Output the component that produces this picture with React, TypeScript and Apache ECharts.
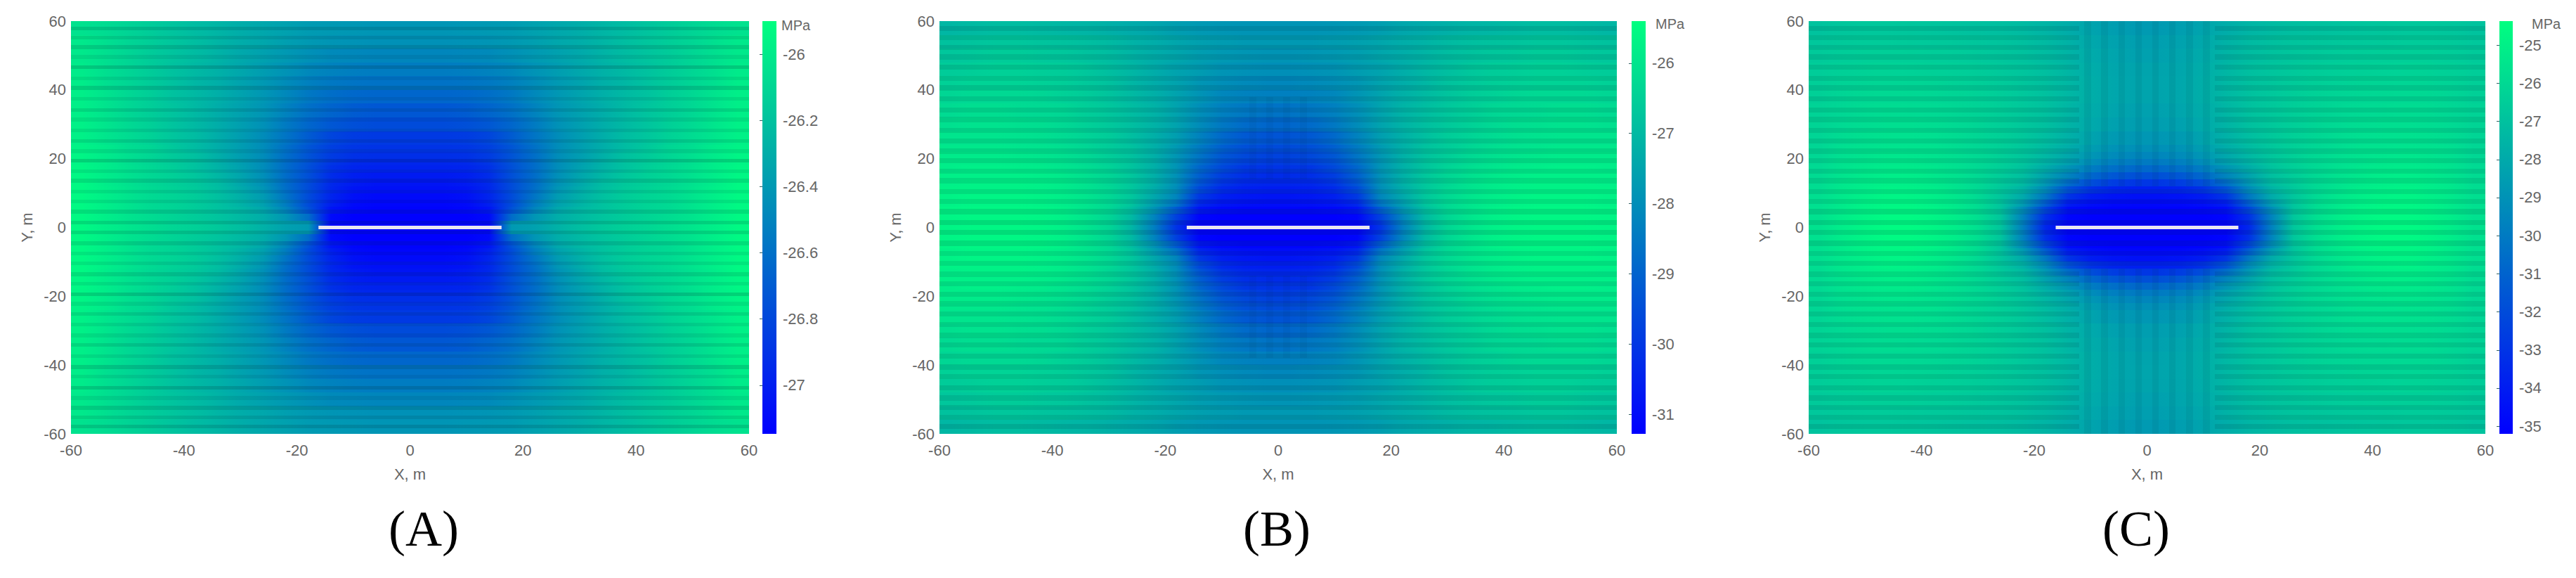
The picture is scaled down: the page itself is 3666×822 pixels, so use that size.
import React, { useEffect, useRef } from "react";
import * as echarts from "echarts";

// Band edges (m) of the tables below: they describe the quadrant x>=0, y>=0.
const xEdges = [0, 4, 8, 12, 16, 20, 24, 28, 32, 36, 40, 44, 48, 52, 56, 60];
const yEdges = [0, 2, 4, 6, 8, 10, 12, 14, 16, 18, 20, 22, 24, 28, 32, 36, 40, 44, 48, 52, 56, 60];

// Stress (MPa), rows from y=0 upward, columns from x=0 outward.
const stressA = [
  [-27.14,-27.14,-27.14,-27.12,-26.40,-26.36,-26.28,-26.22,-26.17,-26.13,-26.1,-26.06,-26.02,-25.98,-25.93],
  [-27.14,-27.14,-27.14,-27.10,-26.62,-26.42,-26.30,-26.24,-26.19,-26.15,-26.11,-26.07,-26.03,-25.98,-25.93],
  [-27.13,-27.13,-27.12,-27.05,-26.75,-26.5,-26.33,-26.25,-26.2,-26.15,-26.11,-26.08,-26.03,-25.98,-25.93],
  [-27.12,-27.12,-27.10,-27.00,-26.78,-26.54,-26.36,-26.27,-26.2,-26.15,-26.11,-26.08,-26.03,-25.98,-25.93],
  [-27.10,-27.10,-27.07,-26.97,-26.78,-26.58,-26.39,-26.29,-26.21,-26.15,-26.11,-26.08,-26.03,-25.98,-25.93],
  [-27.07,-27.07,-27.05,-26.96,-26.78,-26.61,-26.42,-26.31,-26.22,-26.16,-26.12,-26.08,-26.03,-25.98,-25.93],
  [-27.05,-27.05,-27.02,-26.95,-26.78,-26.62,-26.44,-26.33,-26.23,-26.17,-26.13,-26.09,-26.04,-25.99,-25.93],
  [-27.02,-27.02,-27.00,-26.93,-26.76,-26.62,-26.45,-26.34,-26.25,-26.18,-26.13,-26.09,-26.04,-25.99,-25.94],
  [-26.98,-26.98,-26.97,-26.91,-26.76,-26.62,-26.46,-26.36,-26.27,-26.2,-26.14,-26.09,-26.04,-25.99,-25.94],
  [-26.96,-26.96,-26.95,-26.89,-26.75,-26.62,-26.46,-26.37,-26.28,-26.2,-26.15,-26.1,-26.05,-25.99,-25.95],
  [-26.92,-26.92,-26.91,-26.86,-26.74,-26.61,-26.46,-26.38,-26.29,-26.21,-26.16,-26.1,-26.05,-26.0,-25.95],
  [-26.90,-26.90,-26.89,-26.84,-26.73,-26.6,-26.46,-26.38,-26.3,-26.23,-26.17,-26.1,-26.06,-26.0,-25.96],
  [-26.87,-26.87,-26.86,-26.81,-26.7,-26.58,-26.46,-26.38,-26.3,-26.23,-26.18,-26.12,-26.07,-26.02,-25.97],
  [-26.78,-26.78,-26.76,-26.72,-26.65,-26.55,-26.44,-26.37,-26.3,-26.24,-26.19,-26.13,-26.08,-26.02,-25.97],
  [-26.72,-26.72,-26.7,-26.66,-26.6,-26.51,-26.42,-26.36,-26.3,-26.24,-26.19,-26.14,-26.09,-26.03,-25.98],
  [-26.65,-26.65,-26.64,-26.61,-26.56,-26.48,-26.41,-26.35,-26.29,-26.24,-26.2,-26.14,-26.09,-26.03,-25.98],
  [-26.59,-26.59,-26.58,-26.56,-26.52,-26.46,-26.4,-26.35,-26.29,-26.25,-26.2,-26.15,-26.1,-26.05,-25.99],
  [-26.54,-26.54,-26.53,-26.51,-26.48,-26.43,-26.38,-26.33,-26.28,-26.24,-26.2,-26.15,-26.1,-26.05,-26.0],
  [-26.49,-26.49,-26.48,-26.47,-26.44,-26.4,-26.36,-26.32,-26.27,-26.23,-26.19,-26.15,-26.1,-26.05,-26.01],
  [-26.44,-26.44,-26.43,-26.42,-26.4,-26.37,-26.33,-26.3,-26.26,-26.22,-26.18,-26.14,-26.1,-26.05,-26.01],
  [-26.42,-26.42,-26.41,-26.4,-26.39,-26.36,-26.33,-26.3,-26.26,-26.23,-26.19,-26.15,-26.11,-26.07,-26.04],
];
const stressB = [
  [-31.28,-31.28,-31.28,-31.28,-30.1,-28.34,-27.05,-26.34,-25.99,-25.75,-25.64,-25.58,-25.58,-25.58,-25.64],
  [-31.28,-31.28,-31.28,-31.16,-29.81,-28.22,-26.99,-26.34,-25.99,-25.75,-25.64,-25.58,-25.58,-25.58,-25.64],
  [-31.16,-31.16,-31.1,-30.81,-29.22,-27.87,-26.87,-26.28,-25.99,-25.75,-25.64,-25.58,-25.58,-25.58,-25.64],
  [-30.99,-30.93,-30.81,-30.4,-28.63,-27.63,-26.75,-26.28,-25.99,-25.81,-25.7,-25.64,-25.64,-25.64,-25.7],
  [-30.81,-30.75,-30.57,-29.99,-28.22,-27.4,-26.69,-26.28,-25.99,-25.81,-25.7,-25.64,-25.64,-25.64,-25.7],
  [-30.63,-30.57,-30.34,-29.63,-28.05,-27.28,-26.69,-26.28,-26.05,-25.87,-25.75,-25.7,-25.7,-25.7,-25.7],
  [-30.46,-30.4,-30.1,-29.34,-27.99,-27.22,-26.69,-26.34,-26.05,-25.87,-25.75,-25.7,-25.7,-25.7,-25.75],
  [-30.28,-30.22,-29.87,-29.1,-27.93,-27.22,-26.69,-26.34,-26.11,-25.93,-25.81,-25.75,-25.75,-25.75,-25.75],
  [-30.1,-30.05,-29.63,-28.93,-27.87,-27.22,-26.75,-26.4,-26.16,-25.99,-25.87,-25.81,-25.75,-25.75,-25.81],
  [-29.93,-29.81,-29.46,-28.75,-27.87,-27.22,-26.75,-26.46,-26.22,-26.05,-25.93,-25.87,-25.81,-25.81,-25.81],
  [-29.75,-29.63,-29.28,-28.58,-27.81,-27.22,-26.81,-26.52,-26.28,-26.11,-25.99,-25.93,-25.87,-25.87,-25.87],
  [-29.57,-29.46,-29.1,-28.46,-27.75,-27.22,-26.81,-26.58,-26.34,-26.16,-26.05,-25.99,-25.93,-25.93,-25.93],
  [-29.34,-29.22,-28.87,-28.28,-27.63,-27.22,-26.87,-26.58,-26.4,-26.22,-26.11,-26.05,-25.99,-25.99,-25.99],
  [-28.93,-28.81,-28.52,-28.05,-27.52,-27.16,-26.87,-26.64,-26.46,-26.28,-26.16,-26.11,-26.05,-26.05,-26.11],
  [-28.63,-28.52,-28.34,-27.99,-27.52,-27.16,-26.93,-26.7,-26.52,-26.34,-26.28,-26.22,-26.16,-26.16,-26.22],
  [-28.34,-28.28,-28.16,-27.87,-27.52,-27.22,-26.99,-26.75,-26.58,-26.46,-26.34,-26.28,-26.28,-26.28,-26.34],
  [-28.16,-28.1,-27.99,-27.81,-27.52,-27.28,-27.05,-26.81,-26.64,-26.52,-26.46,-26.4,-26.4,-26.4,-26.46],
  [-27.99,-27.93,-27.87,-27.69,-27.52,-27.28,-27.05,-26.87,-26.7,-26.58,-26.52,-26.46,-26.46,-26.52,-26.58],
  [-27.87,-27.81,-27.75,-27.63,-27.46,-27.28,-27.1,-26.93,-26.81,-26.7,-26.64,-26.58,-26.58,-26.64,-26.7],
  [-27.75,-27.75,-27.69,-27.58,-27.46,-27.28,-27.16,-26.99,-26.87,-26.81,-26.75,-26.7,-26.7,-26.75,-26.81],
  [-27.87,-27.87,-27.81,-27.75,-27.63,-27.46,-27.34,-27.22,-27.1,-27.05,-26.99,-26.93,-26.93,-26.99,-27.05],
];
const stressC = [
  [-35.2,-35.2,-35.2,-35.15,-33.6,-29.79,-26.8,-25.7,-25.1,-24.75,-24.55,-24.55,-24.75,-25.1,-25.6],
  [-35.15,-35.15,-35.15,-35.0,-33.2,-29.7,-26.8,-25.75,-25.15,-24.8,-24.6,-24.6,-24.8,-25.15,-25.65],
  [-35.1,-35.1,-35.05,-34.7,-32.4,-29.3,-26.85,-25.8,-25.2,-24.85,-24.65,-24.65,-24.85,-25.2,-25.65],
  [-34.9,-34.85,-34.6,-34.0,-31.3,-28.6,-26.85,-25.85,-25.3,-24.95,-24.75,-24.7,-24.9,-25.25,-25.7],
  [-34.5,-34.4,-34.0,-33.0,-30.2,-28.0,-26.8,-25.95,-25.4,-25.05,-24.85,-24.8,-25.0,-25.3,-25.75],
  [-33.9,-33.7,-33.1,-31.8,-29.4,-27.6,-26.7,-26.0,-25.5,-25.15,-24.95,-24.9,-25.1,-25.35,-25.8],
  [-32.9,-32.6,-31.9,-30.6,-28.8,-27.3,-26.6,-26.0,-25.55,-25.25,-25.05,-25.0,-25.15,-25.4,-25.85],
  [-31.8,-31.5,-30.8,-29.6,-28.3,-27.1,-26.5,-26.0,-25.6,-25.35,-25.15,-25.1,-25.25,-25.5,-25.9],
  [-30.8,-30.5,-29.9,-28.9,-27.9,-26.95,-26.4,-26.0,-25.65,-25.4,-25.25,-25.2,-25.35,-25.55,-25.95],
  [-30.0,-29.8,-29.2,-28.4,-27.6,-26.85,-26.35,-26.0,-25.7,-25.5,-25.35,-25.3,-25.42,-25.6,-26.0],
  [-29.5,-29.3,-28.8,-28.1,-27.4,-26.8,-26.35,-26.0,-25.75,-25.55,-25.45,-25.4,-25.5,-25.7,-26.05],
  [-29.1,-28.95,-28.5,-27.85,-27.25,-26.75,-26.35,-26.05,-25.8,-25.6,-25.55,-25.5,-25.6,-25.75,-26.1],
  [-28.8,-28.65,-28.25,-27.7,-27.15,-26.7,-26.35,-26.1,-25.85,-25.7,-25.62,-25.6,-25.68,-25.85,-26.15],
  [-28.5,-28.35,-28.0,-27.55,-27.05,-26.7,-26.4,-26.15,-25.95,-25.82,-25.75,-25.72,-25.8,-25.95,-26.2],
  [-28.35,-28.2,-27.9,-27.45,-27.0,-26.7,-26.45,-26.22,-26.05,-25.95,-25.88,-25.85,-25.92,-26.05,-26.25],
  [-28.25,-28.1,-27.8,-27.4,-27.0,-26.72,-26.5,-26.3,-26.17,-26.07,-26.02,-26.0,-26.02,-26.15,-26.35],
  [-28.2,-28.1,-27.8,-27.4,-27.05,-26.78,-26.58,-26.42,-26.3,-26.2,-26.15,-26.12,-26.15,-26.25,-26.42],
  [-28.25,-28.15,-27.85,-27.45,-27.1,-26.85,-26.68,-26.53,-26.42,-26.35,-26.3,-26.25,-26.28,-26.37,-26.5],
  [-28.35,-28.2,-27.95,-27.55,-27.2,-26.95,-26.78,-26.65,-26.55,-26.5,-26.45,-26.4,-26.42,-26.5,-26.6],
  [-28.45,-28.3,-28.05,-27.65,-27.3,-27.05,-26.88,-26.78,-26.7,-26.65,-26.6,-26.55,-26.55,-26.62,-26.72],
  [-28.65,-28.5,-28.25,-27.85,-27.5,-27.25,-27.1,-27.0,-26.9,-26.85,-26.77,-26.72,-26.72,-26.8,-26.9],
];

// Mesh banding seen in the picture: |y| of the dark rows, their strengths per panel.
const bandY = [1.4, 4.6, 7.6, 10.4, 13.6, 16.4, 19.4, 22.2, 25.2, 28.2, 31.4, 34.2, 37.4, 40.6, 43.4, 46.6, 49.6, 52.4, 55.2, 57.8];
const bandA = [0.14, 0.12, 0.09, 0.09, 0.12, 0.09, 0.17, 0.09, 0.11, 0.09, 0.09, 0.12, 0.09, 0.15, 0.09, 0.17, 0.09, 0.14, 0.11, 0.15];
const bandB = [0.13, 0.12, 0.1, 0.1, 0.1, 0.1, 0.11, 0.1, 0.1, 0.1, 0.1, 0.1, 0.1, 0.11, 0.1, 0.11, 0.1, 0.11, 0.1, 0.12];
const bandC = [0.12, 0.12, 0.1, 0.1, 0.1, 0.1, 0.1, 0.1, 0.1, 0.1, 0.1, 0.1, 0.1, 0.1, 0.1, 0.1, 0.1, 0.1, 0.1, 0.11];
// |x| of the vertical bands above the crack in panels B and C.
const columnXB = [1.5, 4.5];
const columnXC = [1.5, 4.5, 7.5, 10.5];

const crackX = [-16.2, 16.2];
const ticksA = [-26, -26.2, -26.4, -26.6, -26.8, -27];
const ticksB = [-26, -27, -28, -29, -30, -31];
const ticksC = [-25, -26, -27, -28, -29, -30, -31, -32, -33, -34, -35];

const panels = [
  { table: stressA, band: bandA, columns: [] as number[], columnAlpha: 0, columnY: [0, 0], gap: 0, bandW: 0.55, min: -27.147, max: -25.9, ticks: ticksA, left: 101, right: 1066, barL: 1085, barR: 1105, unitX: 1112, unitY: 36, label: "(A)", labelX: 603 },
  { table: stressB, band: bandB, columns: columnXB, columnAlpha: 0.05, columnY: [14, 38], gap: 0, bandW: 0.75, min: -31.28, max: -25.4, ticks: ticksB, left: 1337, right: 2301, barL: 2322, barR: 2342, unitX: 2356, unitY: 34, label: "(B)", labelX: 1817 },
  { table: stressC, band: bandC, columns: columnXC, columnAlpha: 0.07, columnY: [12, 60], gap: 12, bandW: 0.75, min: -35.2, max: -24.37, ticks: ticksC, left: 2574, right: 3537, barL: 3557, barR: 3576, unitX: 3603, unitY: 34, label: "(C)", labelX: 3040 },
];

const TOP = 30;
const BOTTOM = 617;
const LOW = "#0000ff";
const HIGH = "#00ff80";
const TEXT = "#666666";
const FONT = "'Liberation Sans', Arial, sans-serif";
const COLS = xEdges.length - 1;

function cellData(table: number[][]) {
  const out: number[][] = [];
  table.forEach((row, r) =>
    row.forEach((v, c) => {
      for (const sx of [-1, 1]) {
        for (const sy of [-1, 1]) {
          out.push([sx * xEdges[c], sx * xEdges[c + 1], sy * yEdges[r], sy * yEdges[r + 1], v]);
        }
      }
    })
  );
  return out;
}

function bandData(p: (typeof panels)[number]) {
  const out: number[][] = [];
  bandY.forEach((y, i) => {
    for (const sy of [-1, 1]) {
      const y0 = sy * (y - p.bandW);
      const y1 = sy * (y + p.bandW);
      if (p.gap > 0 && y > p.gap) {
        out.push([-60, -p.gap, y0, y1, p.band[i]]);
        out.push([p.gap, 60, y0, y1, p.band[i]]);
      } else {
        out.push([-60, 60, y0, y1, p.band[i]]);
      }
    }
  });
  p.columns.forEach((x) => {
    for (const sx of [-1, 1]) {
      for (const sy of [-1, 1]) {
        out.push([sx * (x - 0.6), sx * (x + 0.6), sy * p.columnY[0], sy * p.columnY[1], p.columnAlpha]);
      }
    }
  });
  return out;
}

const rectBetween = (api: any) => {
  const a = api.coord([api.value(0), api.value(2)]);
  const b = api.coord([api.value(1), api.value(3)]);
  const x = Math.round(Math.min(a[0], b[0]));
  const y = Math.round(Math.min(a[1], b[1]));
  const x2 = Math.round(Math.max(a[0], b[0]));
  const y2 = Math.round(Math.max(a[1], b[1]));
  return { x, y, width: x2 - x, height: y2 - y };
};

// Cell fill: shaded across the cell towards the colours of its neighbours in the row.
function shadedFill(params: any, api: any) {
  const idx = params.dataIndexInside;
  const own = api.visual("color");
  const c = Math.floor(idx / 4) % COLS;
  const inner = echarts.color.lerp(0.5, [own, api.visual("color", c > 0 ? idx - 4 : idx)]);
  const outer = echarts.color.lerp(0.5, [own, api.visual("color", c < COLS - 1 ? idx + 4 : idx)]);
  const negativeX = idx % 4 < 2;
  return new echarts.graphic.LinearGradient(0, 0, 1, 0, [
    { offset: 0, color: negativeX ? outer : inner },
    { offset: 0.5, color: own },
    { offset: 1, color: negativeX ? inner : outer },
  ]);
}

function buildOption() {
  const grid: any[] = [];
  const xAxis: any[] = [];
  const yAxis: any[] = [];
  const series: any[] = [];
  const visualMap: any[] = [];
  const graphic: any[] = [];
  const hidden = { axisLine: { show: false }, axisTick: { show: false }, splitLine: { show: false } };
  const labelStyle = { color: TEXT, fontSize: 22, fontFamily: FONT };

  panels.forEach((p, i) => {
    const plot = i * 2;
    const bar = plot + 1;
    grid.push({ left: p.left, top: TOP, width: p.right - p.left, height: BOTTOM - TOP });
    grid.push({ left: p.barL, top: TOP, width: p.barR - p.barL, height: BOTTOM - TOP });

    xAxis.push({
      gridIndex: plot, type: "value", min: -60, max: 60, interval: 20, ...hidden,
      axisLabel: { ...labelStyle, margin: 12, hideOverlap: false },
      name: "X, m", nameLocation: "middle", nameGap: 46,
      nameTextStyle: { ...labelStyle },
    });
    yAxis.push({
      gridIndex: plot, type: "value", min: -60, max: 60, interval: 20, ...hidden,
      axisLabel: { ...labelStyle, margin: 7, hideOverlap: false },
      name: "Y, m", nameLocation: "middle", nameGap: 52,
      nameTextStyle: { ...labelStyle },
    });
    xAxis.push({ gridIndex: bar, type: "value", min: 0, max: 1, show: false });
    yAxis.push({
      gridIndex: bar, type: "value", min: p.min, max: p.max, position: "right",
      axisLine: { show: false }, splitLine: { show: false },
      axisTick: { show: true, inside: true, length: 4, customValues: p.ticks, lineStyle: { color: "#2f5f60", width: 1 } },
      axisLabel: { ...labelStyle, margin: 9, customValues: p.ticks, hideOverlap: false, formatter: (v: number) => String(v) },
    });

    visualMap.push({
      type: "continuous", show: false, seriesIndex: series.length, dimension: 4,
      min: p.min, max: p.max, inRange: { color: [LOW, HIGH] },
    });
    series.push({
      type: "custom", xAxisIndex: plot, yAxisIndex: plot, silent: true,
      data: cellData(p.table), encode: { x: [0, 1], y: [2, 3] },
      renderItem: (params: any, api: any) => ({
        type: "rect", shape: rectBetween(api), style: { fill: shadedFill(params, api) },
      }),
    });
    series.push({
      type: "custom", xAxisIndex: plot, yAxisIndex: plot, silent: true,
      data: bandData(p), encode: { x: [0, 1], y: [2, 3] },
      renderItem: (_: any, api: any) => ({
        type: "rect", shape: rectBetween(api), style: { fill: `rgba(0,40,50,${api.value(4)})` },
      }),
    });
    series.push({
      type: "line", xAxisIndex: plot, yAxisIndex: plot, silent: true, symbol: "none",
      data: crackX.map((x) => [x, 0]), lineStyle: { color: "#e8e6f0", width: 5 }, z: 5,
    });
    series.push({
      type: "custom", xAxisIndex: bar, yAxisIndex: bar, silent: true,
      data: [[0, 1, p.min, p.max]], encode: { x: [0, 1], y: [2, 3] },
      renderItem: (_: any, api: any) => ({
        type: "rect", shape: rectBetween(api),
        style: {
          fill: new echarts.graphic.LinearGradient(0, 0, 0, 1, [
            { offset: 0, color: HIGH },
            { offset: 1, color: LOW },
          ]),
        },
      }),
    });

    graphic.push({
      type: "text", x: p.unitX, y: p.unitY,
      style: { text: "MPa", fill: TEXT, font: `20px ${FONT}`, textVerticalAlign: "middle" },
    });
    graphic.push({
      type: "text", x: p.labelX, y: 752,
      style: { text: p.label, fill: "#000000", font: `72px 'Liberation Serif', 'Times New Roman', serif`, textAlign: "center", textVerticalAlign: "middle" },
    });
  });

  return { animation: false, backgroundColor: "#ffffff", grid, xAxis, yAxis, series, visualMap, graphic };
}

export default function App() {
  const ref = useRef<HTMLDivElement>(null);
  useEffect(() => {
    const chart = echarts.init(ref.current!, undefined, { renderer: "svg" });
    chart.setOption(buildOption() as any);
    return () => chart.dispose();
  }, []);
  return <div ref={ref} style={{ position: "absolute", left: 0, top: 0, width: 3666, height: 822 }} />;
}
